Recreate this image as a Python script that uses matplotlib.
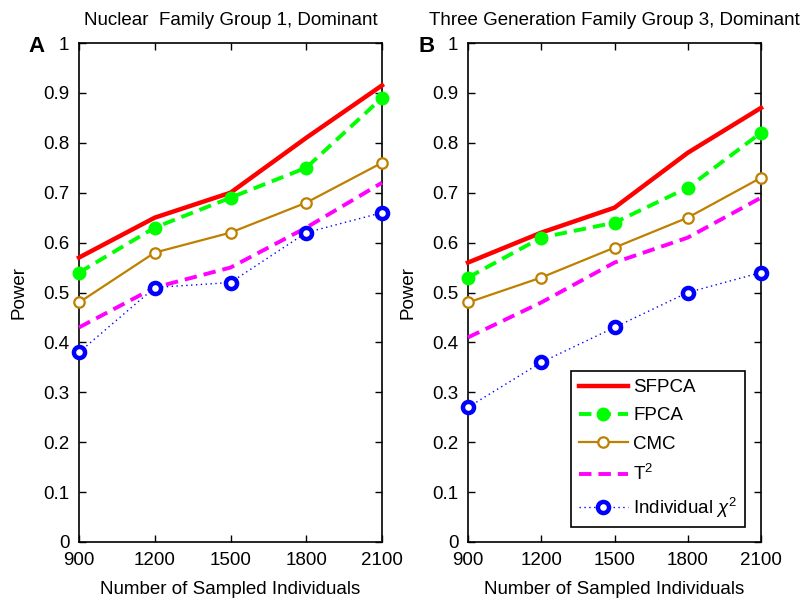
import matplotlib
matplotlib.use('Agg')
import matplotlib.pyplot as plt

plt.rcParams['font.family'] = ['Liberation Sans', 'DejaVu Sans']
plt.rcParams['mathtext.fontset'] = 'custom'
plt.rcParams['mathtext.rm'] = 'Liberation Sans'
plt.rcParams['mathtext.it'] = 'Liberation Sans:italic'

sample_sizes = [900, 1200, 1500, 1800, 2100]
method_names = ['SFPCA', 'FPCA', 'CMC', 'T$^2$', r'Individual $\chi^2$']

# panel A: nuclear family, group 1
power_a = {
    'SFPCA': [0.57, 0.65, 0.70, 0.81, 0.915],
    'FPCA': [0.54, 0.63, 0.69, 0.75, 0.89],
    'CMC': [0.48, 0.58, 0.62, 0.68, 0.76],
    'T2': [0.43, 0.51, 0.55, 0.63, 0.72],
    'chi2': [0.38, 0.51, 0.52, 0.62, 0.66],
}
# panel B: three generation family, group 3
power_b = {
    'SFPCA': [0.56, 0.62, 0.67, 0.78, 0.87],
    'FPCA': [0.53, 0.61, 0.64, 0.71, 0.82],
    'CMC': [0.48, 0.53, 0.59, 0.65, 0.73],
    'T2': [0.41, 0.48, 0.56, 0.61, 0.69],
    'chi2': [0.27, 0.36, 0.43, 0.50, 0.54],
}
titles = ['Nuclear  Family Group 1, Dominant',
          'Three Generation Family Group 3, Dominant']
panel_tags = ['A', 'B']

brown = (0.75, 0.5, 0.0)
fs = 13.5


def draw_panel(ax, power):
    ax.plot(sample_sizes, power['SFPCA'], '-', color='red', lw=3.2,
            label=method_names[0], zorder=3, clip_on=False)
    ax.plot(sample_sizes, power['FPCA'], '--', color=(0, 1, 0), lw=2.8,
            dashes=(3.2, 1.8), marker='o', ms=9, mfc=(0, 1, 0),
            mec=(0, 1, 0), label=method_names[1], zorder=4, clip_on=False)
    ax.plot(sample_sizes, power['CMC'], '-', color=brown, lw=1.6,
            marker='o', ms=7.5, mfc='white', mec=brown, mew=1.6,
            label=method_names[2], zorder=3, clip_on=False)
    ax.plot(sample_sizes, power['T2'], '--', color=(1, 0, 1), lw=2.8,
            dashes=(3.2, 1.8), label=method_names[3], zorder=3, clip_on=False)
    ax.plot(sample_sizes, power['chi2'], ':', color='blue', lw=1.0,
            dashes=(1, 2.5), marker='o', ms=8, mfc='white', mec='blue',
            mew=3.2, label=method_names[4], zorder=5, clip_on=False)

    ax.set_xlim(900, 2100)
    ax.set_ylim(0, 1)
    ax.set_xticks(sample_sizes)
    ax.set_yticks([i / 10 for i in range(11)])
    ax.set_yticklabels(['0'] + ['%.1f' % (i / 10) for i in range(1, 10)] + ['1'])
    ax.tick_params(direction='in', length=5, width=1, top=True, right=True,
                   labelsize=fs, pad=7)
    for sp in ax.spines.values():
        sp.set_linewidth(1.2)
    ax.set_xlabel('Number of Sampled Individuals', fontsize=fs, labelpad=9)
    ax.set_ylabel('Power', fontsize=fs, labelpad=11)


fig = plt.figure(figsize=(8.06, 6.03), dpi=100)
ax_a = fig.add_axes([79 / 806, 61 / 603, 303 / 806, 499 / 603])
ax_b = fig.add_axes([468 / 806, 61 / 603, 293 / 806, 499 / 603])

for ax, power, title, tag in zip([ax_a, ax_b], [power_a, power_b], titles, panel_tags):
    draw_panel(ax, power)
    ax.set_title(title, fontsize=fs, pad=13)
    ax.text(-0.14, 0.992, tag, transform=ax.transAxes, fontsize=16,
            fontweight='bold', ha='center', va='center')

leg = ax_b.legend(loc='lower right', bbox_to_anchor=(0.945, 0.03),
                  borderaxespad=0, fontsize=fs, handlelength=2.6,
                  fancybox=False, edgecolor='black', framealpha=1,
                  labelspacing=0.6, borderpad=0.4, handletextpad=0.3)
leg.get_frame().set_linewidth(1.2)

fig.savefig('out.png', dpi=100)
